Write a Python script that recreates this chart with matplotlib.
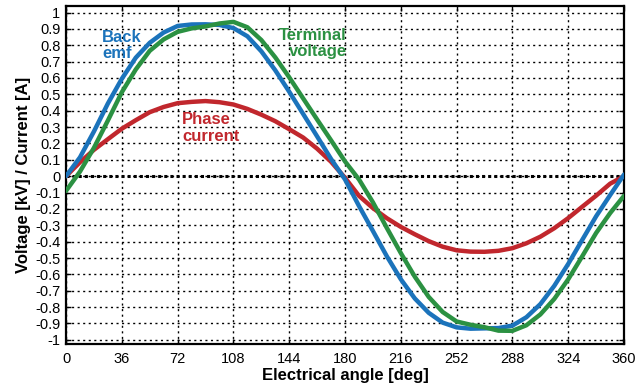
import matplotlib
matplotlib.use("Agg")
import matplotlib.pyplot as plt

plt.rcParams['font.family'] = ['Liberation Sans', 'DejaVu Sans']

angle = [0, 9, 18, 27, 36, 45, 54, 63, 72, 81, 90, 99, 108, 117, 126, 135, 144, 153, 162, 171,
         180, 189, 198, 207, 216, 225, 234, 243, 252, 261, 270, 279, 288, 297, 306, 315, 324,
         333, 342, 351, 360]

back_emf = [0.0, 0.115, 0.273, 0.444, 0.595, 0.724, 0.815, 0.878, 0.918, 0.927, 0.928, 0.924,
            0.905, 0.855, 0.763, 0.647, 0.516, 0.38, 0.243, 0.105, -0.02, -0.182, -0.335,
            -0.49, -0.63, -0.747, -0.835, -0.895, -0.924, -0.932, -0.93, -0.928, -0.913,
            -0.862, -0.782, -0.67, -0.536, -0.39, -0.245, -0.116, 0.01]

terminal_voltage = [-0.09, 0.028, 0.173, 0.34, 0.513, 0.652, 0.766, 0.836, 0.882, 0.903, 0.915,
                    0.933, 0.943, 0.91, 0.832, 0.726, 0.604, 0.475, 0.346, 0.219, 0.09, -0.02,
                    -0.16, -0.317, -0.47, -0.614, -0.738, -0.83, -0.888, -0.908, -0.923, -0.944,
                    -0.945, -0.911, -0.845, -0.75, -0.63, -0.49, -0.347, -0.226, -0.12]

phase_current = [0.0, 0.085, 0.161, 0.226, 0.29, 0.342, 0.391, 0.423, 0.446, 0.454, 0.459,
                 0.452, 0.438, 0.411, 0.376, 0.336, 0.287, 0.236, 0.168, 0.088, -0.01, -0.12,
                 -0.195, -0.257, -0.31, -0.355, -0.397, -0.431, -0.453, -0.461, -0.462, -0.456,
                 -0.44, -0.41, -0.37, -0.318, -0.256, -0.187, -0.119, -0.046, 0.0]

x_ticks = [0, 36, 72, 108, 144, 180, 216, 252, 288, 324, 360]
y_ticks = [1, 0.9, 0.8, 0.7, 0.6, 0.5, 0.4, 0.3, 0.2, 0.1, 0, -0.1, -0.2, -0.3, -0.4, -0.5,
           -0.6, -0.7, -0.8, -0.9, -1]
y_tick_labels = ['1', '0.9', '0.8', '0.7', '0.6', '0.5', '0.4', '0.3', '0.2', '0.1', '0',
                 '-0.1', '-0.2', '-0.3', '-0.4', '-0.5', '-0.6', '-0.7', '-0.8', '-0.9', '-1']

BLUE = '#1b73bb'
GREEN = '#2b9142'
RED = '#c1272d'

fig = plt.figure(figsize=(6.36, 3.91), dpi=100)
ax = fig.add_axes([0.1038, 0.12, 0.8774, 0.8647])

ax.set_xlim(0, 360)
ax.set_ylim(-1.026, 1.04)

ax.set_xticks(x_ticks)
ax.set_yticks(y_ticks)
ax.set_yticklabels(y_tick_labels)
ax.grid(True, color='black', linestyle=(0, (1.5, 2.5)), linewidth=1.0)
ax.set_axisbelow(True)

ax.axhline(0, color='black', linestyle=(0, (1, 1)), linewidth=2.2, zorder=1.5)

style = dict(linewidth=3.2, solid_joinstyle='round', solid_capstyle='round')
ax.plot(angle, phase_current, color=RED, zorder=3, **style)
ax.plot(angle, back_emf, color=BLUE, zorder=4, **style)
ax.plot(angle, terminal_voltage, color=GREEN, zorder=5, **style)

ax.text(23.2, 0.80, 'Back\nemf', color=BLUE, fontsize=12, fontweight='bold',
        ha='left', va='center', linespacing=1.1, zorder=6)
ax.text(181.0, 0.81, 'Terminal\nvoltage', color=GREEN, fontsize=12, fontweight='bold',
        ha='right', va='center', linespacing=1.1, zorder=6)
ax.text(74.8, 0.295, 'Phase\ncurrent', color=RED, fontsize=12, fontweight='bold',
        ha='left', va='center', linespacing=1.1, zorder=6)

ax.tick_params(axis='both', direction='in', length=3.5, width=1.0, labelsize=10.5,
               top=True, right=True, colors='black')
ax.tick_params(axis='x', pad=6)
ax.tick_params(axis='y', pad=4)

for s in ax.spines.values():
    s.set_linewidth(1.6)
    s.set_color('black')

ax.set_xlabel('Electrical angle [deg]', fontsize=12, fontweight='bold', labelpad=1)
ax.set_ylabel('Voltage [kV] / Current [A]', fontsize=12, fontweight='bold', labelpad=3)

fig.savefig('out.png', dpi=100)
